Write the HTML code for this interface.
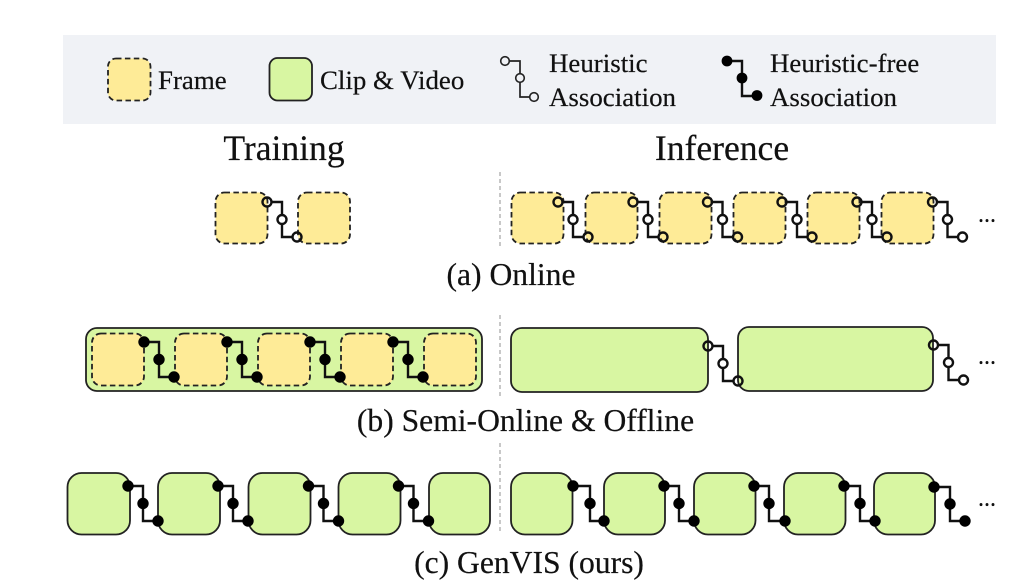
<!DOCTYPE html>
<html>
<head>
<meta charset="utf-8">
<style>
html,body{margin:0;padding:0;background:#fff;width:1024px;height:588px;overflow:hidden}
svg{display:block}
text{font-family:"Liberation Serif",serif;fill:#111;stroke:#111;stroke-width:.2px}
.f{fill:#feeb97;stroke:#222;stroke-width:1.8;stroke-dasharray:5.5 3.4}
.g{fill:#d8f6a2;stroke:#222;stroke-width:1.8}
.l{fill:none;stroke:#111;stroke-width:2.4}
.m{font-size:26.9px}
.h{font-size:35.6px;text-anchor:middle}
.c{font-size:31.6px;text-anchor:middle}
.d{font-size:24px;text-anchor:middle}
</style>
</head>
<body>
<svg width="1024" height="588" viewBox="0 0 1024 588" xmlns="http://www.w3.org/2000/svg">
<defs>
<g id="o">
<path class="l" d="M4 0H15V35H26"/>
<circle cx="0" cy="0" r="4.500" fill="none" stroke="#111" stroke-width="2.400"/>
<circle cx="15" cy="17.5" r="4.500" fill="#fff" stroke="#111" stroke-width="2.400"/>
<circle cx="30" cy="35" r="4.500" fill="none" stroke="#111" stroke-width="2.400"/>
</g>
<g id="oe">
<path class="l" d="M4 0H15V35H26"/>
<circle cx="0" cy="0" r="4.500" fill="none" stroke="#111" stroke-width="2.400"/>
<circle cx="15" cy="17.5" r="4.500" fill="#fff" stroke="#111" stroke-width="2.400"/>
<circle cx="30" cy="35" r="4.500" fill="#fff" stroke="#111" stroke-width="2.400"/>
</g>
<g id="b">
<path class="l" d="M0 0H15V35H30"/>
<circle cx="0" cy="0" r="5.700" fill="#000"/>
<circle cx="15" cy="17.5" r="5.700" fill="#000"/>
<circle cx="30" cy="35" r="5.700" fill="#000"/>
</g>
</defs>

<rect x="63" y="35" width="933" height="89" fill="#f0f2f6"/>
<rect class="f" x="108" y="58.500" width="42.500" height="42" rx="8"/>
<text class="m" x="158" y="89">Frame</text>
<rect class="g" x="269.500" y="58" width="42.500" height="42.500" rx="8"/>
<text class="m" x="320" y="89">Clip &amp; Video</text>

<path d="M509.500 61H520V97H530" fill="none" stroke="#222" stroke-width="1.7"/>
<circle cx="505" cy="61" r="4.300" fill="#f0f2f6" stroke="#222" stroke-width="1.600"/>
<circle cx="520" cy="78" r="4.300" fill="#f0f2f6" stroke="#222" stroke-width="1.600"/>
<circle cx="534" cy="97" r="4.300" fill="#f0f2f6" stroke="#222" stroke-width="1.600"/>
<text class="m" x="549" y="72">Heuristic</text>
<text class="m" x="549" y="106">Association</text>

<path d="M727 61H742V96H757" fill="none" stroke="#111" stroke-width="2.400"/>
<circle cx="727" cy="61" r="5.400" fill="#000"/>
<circle cx="742" cy="78" r="5.400" fill="#000"/>
<circle cx="757" cy="95.500" r="5.400" fill="#000"/>
<text class="m" x="770" y="72">Heuristic-free</text>
<text class="m" x="770" y="106">Association</text>

<text class="h" x="284" y="160">Training</text>
<text class="h" x="722" y="160">Inference</text>

<path d="M500 172V248M500 315V396M500 443V534" stroke="#aaa" stroke-width="1.300" stroke-dasharray="4 3" fill="none"/>

<!-- Row a -->
<rect class="f" x="215.500" y="192.500" width="52" height="51" rx="9"/>
<rect class="f" x="298" y="192.500" width="52" height="51" rx="9"/>
<use href="#o" x="267" y="202"/>

<rect class="f" x="511.500" y="192.500" width="52" height="51" rx="9"/>
<rect class="f" x="585.500" y="192.500" width="52" height="51" rx="9"/>
<rect class="f" x="659.500" y="192.500" width="52" height="51" rx="9"/>
<rect class="f" x="733.500" y="192.500" width="52" height="51" rx="9"/>
<rect class="f" x="807.500" y="192.500" width="52" height="51" rx="9"/>
<rect class="f" x="881.500" y="192.500" width="52" height="51" rx="9"/>
<use href="#o" x="558" y="202"/>
<use href="#o" x="633" y="202"/>
<use href="#o" x="707.500" y="202"/>
<use href="#o" x="782" y="202"/>
<use href="#o" x="857" y="202"/>
<use href="#oe" x="932.500" y="202"/>
<text class="d" x="987" y="222">...</text>
<text class="c" x="511" y="285">(a) Online</text>

<!-- Row b -->
<rect class="g" x="86" y="328" width="396" height="63" rx="11"/>
<rect class="f" x="92" y="333.500" width="52" height="52" rx="9"/>
<rect class="f" x="175" y="333.500" width="52" height="52" rx="9"/>
<rect class="f" x="258" y="333.500" width="52" height="52" rx="9"/>
<rect class="f" x="341" y="333.500" width="52" height="52" rx="9"/>
<rect class="f" x="424" y="333.500" width="52" height="52" rx="9"/>
<use href="#b" x="144" y="342"/>
<use href="#b" x="227" y="342"/>
<use href="#b" x="310" y="342"/>
<use href="#b" x="393" y="342"/>

<rect class="g" x="511" y="328" width="197" height="64" rx="11"/>
<rect class="g" x="738" y="327" width="195" height="64" rx="11"/>
<use href="#o" x="708" y="346"/>
<use href="#oe" x="933.500" y="345"/>
<text class="d" x="987" y="364">...</text>
<text class="c" x="525.500" y="431">(b) Semi-Online &amp; Offline</text>

<!-- Row c -->
<rect class="g" x="67.500" y="473" width="62.500" height="61.500" rx="14"/>
<rect class="g" x="158" y="473" width="62" height="61.500" rx="14"/>
<rect class="g" x="248.500" y="473" width="62" height="61.500" rx="14"/>
<rect class="g" x="338.500" y="473" width="62" height="61.500" rx="14"/>
<rect class="g" x="429" y="473" width="61" height="61.500" rx="14"/>
<use href="#b" x="128" y="486"/>
<use href="#b" x="218" y="486"/>
<use href="#b" x="308.500" y="486"/>
<use href="#b" x="398.500" y="486"/>

<rect class="g" x="511" y="473" width="61.500" height="61.500" rx="14"/>
<rect class="g" x="604" y="473" width="61" height="61.500" rx="14"/>
<rect class="g" x="694" y="473" width="61.500" height="61.500" rx="14"/>
<rect class="g" x="784" y="473" width="61.500" height="61.500" rx="14"/>
<rect class="g" x="874" y="473" width="61" height="61.500" rx="14"/>
<g>
<path class="l" d="M573 486H590V521H604"/>
<circle cx="573" cy="486" r="5.700" fill="#000"/><circle cx="590" cy="503.500" r="5.700" fill="#000"/><circle cx="604" cy="521" r="5.700" fill="#000"/>
<path class="l" d="M664 486H679V521H694"/>
<circle cx="664" cy="486" r="5.700" fill="#000"/><circle cx="679" cy="503.500" r="5.700" fill="#000"/><circle cx="694" cy="521" r="5.700" fill="#000"/>
<path class="l" d="M754 486H769V521H785"/>
<circle cx="754" cy="486" r="5.700" fill="#000"/><circle cx="769" cy="503.500" r="5.700" fill="#000"/><circle cx="785" cy="521" r="5.700" fill="#000"/>
<path class="l" d="M844 486H860V521H875"/>
<circle cx="844" cy="486" r="5.700" fill="#000"/><circle cx="860" cy="503.500" r="5.700" fill="#000"/><circle cx="875" cy="521" r="5.700" fill="#000"/>
<path class="l" d="M934 487H950V521H965"/>
<circle cx="934" cy="487" r="5.700" fill="#000"/><circle cx="950" cy="504" r="5.700" fill="#000"/><circle cx="965" cy="521" r="5.700" fill="#000"/>
</g>
<text class="d" x="987" y="506">...</text>
<text class="c" x="529" y="573">(c) GenVIS (ours)</text>
</svg>
</body>
</html>
